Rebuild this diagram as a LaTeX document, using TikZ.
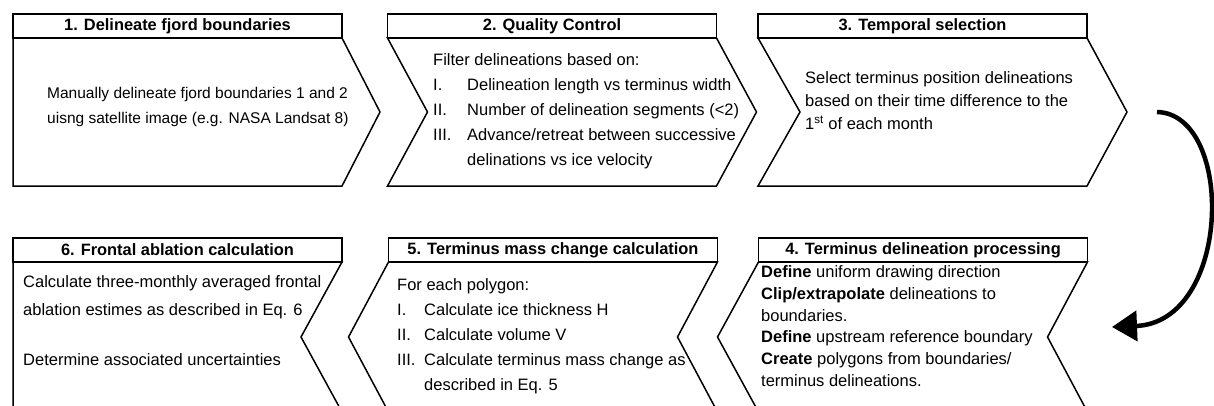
\documentclass[tikz,border=0pt]{standalone}
\usepackage{fontspec}
\setmainfont{Liberation Sans}
\usetikzlibrary{arrows.meta}

\begin{document}
\begin{tikzpicture} [
  x=1pt,
  y=-1pt,
  hdr/.style={draw, line width=1.5pt, minimum width=329pt, minimum height=24pt, inner sep=0pt, outer sep=0pt, font=\fontsize{16.4}{18}\selectfont\bfseries},
  chev/.style={draw, line width=1.5pt, line join=miter},
  txt/.style={anchor=north west, inner sep=0pt, align=left, font=\fontsize{16.5}{25}\selectfont}
  ]
  \useasboundingbox (0,0) rectangle (1214,406);
  \clip (0,0) rectangle (1214,406);

  % top row
  \node(h1)[hdr, at={(177.5,26)}]{1. Delineate fjord boundaries};
  \node(h2)[hdr, at={(552,26)}]{2. Quality Control};
  \node(h3)[hdr, at={(922.5,26)}]{3. Temporal selection};
  \draw[chev] (h1.south west) -- (h1.south east) -- ++(38,74) -- ++(-38,74) -- ++(-329,0) -- cycle;
  \draw[chev] (h2.south west) -- (h2.south east) -- ++(40,74) -- ++(-40,74) -- ++(-329,0) -- ++(40,-74) -- cycle;
  \draw[chev] (h3.south west) -- (h3.south east) -- ++(40,74) -- ++(-40,74) -- ++(-329,0) -- ++(42,-74) -- cycle;

  % bottom row
  \node(h6)[hdr, at={(177.5,250)}]{6. Frontal ablation calculation};
  \node(h5)[hdr, at={(553,250)}]{5. Terminus mass change calculation};
  \node(h4)[hdr, at={(923,250)}]{4. Terminus delineation processing};
  \draw[chev] (h6.south west) -- (h6.south east) -- ++(-41,75) -- ++(41,75) -- ++(-329,0) -- cycle;
  \draw[chev] (h5.south west) -- (h5.south east) -- ++(-40,75) -- ++(40,75) -- ++(-329,0) -- ++(-40,-75) -- cycle;
  \draw[chev] (h4.south west) -- (h4.south east) -- ++(-40,75) -- ++(40,75) -- ++(-329,0) -- ++(-41,-75) -- cycle;

  \node(b1)[txt, at={(47,87)}, font=\fontsize{15.5}{25}\selectfont]{Manually delineate fjord boundaries 1 and 2\\uisng satellite image (e.g. NASA Landsat 8)};
  \node(b2)[txt, at={(433,53.5)}]{Filter delineations based on:\\
    \makebox[34pt][l]{I.}Delineation length vs terminus width\\
    \makebox[34pt][l]{II.}Number of delineation segments (<2)\\
    \makebox[34pt][l]{III.}Advance/retreat between successive\\
    \hspace*{34pt}delinations vs ice velocity};
  \node(b3)[txt, at={(805,71.5)}, font=\fontsize{16.5}{23}\selectfont]{Select terminus position delineations\\based on their time difference to the\\1\textsuperscript{st} of each month};
  \node(b6)[txt, at={(23,275.5)}, font=\fontsize{16.5}{27.5}\selectfont]{Calculate three-monthly averaged frontal\\ablation estimes as described in Eq. 6\\[22.5pt]Determine associated uncertainties};
  \node(b5)[txt, at={(397,278.5)}]{For each polygon:\\
    \makebox[27pt][l]{I.}Calculate ice thickness H\\
    \makebox[27pt][l]{II.}Calculate volume V\\
    \makebox[27pt][l]{III.}Calculate terminus mass change as\\
    \hspace*{27pt}described in Eq. 5};
  \node(b4)[txt, at={(761,265.5)}, font=\fontsize{16.5}{21.7}\selectfont]{\textbf{Define} uniform drawing direction\\
    \textbf{Clip/extrapolate} delineations to\\
    boundaries.\\
    \textbf{Define} upstream reference boundary\\
    \textbf{Create} polygons from boundaries/\\
    terminus delineations.};

  \coordinate(arr-s) at (1157,112);
  \coordinate(arr-e) at (1112,327);
  \draw[line width=4.5pt, -{Triangle[length=25pt,width=30pt]}] (arr-s) .. controls (1235,114) and (1232,322) .. (arr-e);
\end{tikzpicture}
\end{document}
